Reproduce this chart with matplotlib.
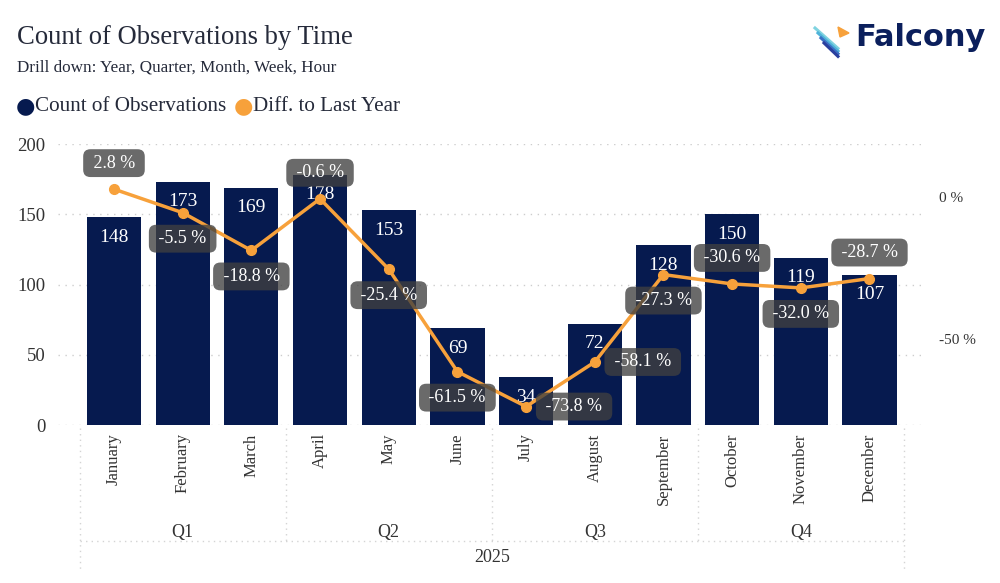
import matplotlib.pyplot as plt
import matplotlib.transforms as mtransforms
from matplotlib.patches import Polygon

months = ['January', 'February', 'March', 'April', 'May', 'June', 'July',
          'August', 'September', 'October', 'November', 'December']
counts = [148, 173, 169, 178, 153, 69, 34, 72, 128, 150, 119, 107]
diff_pct = [2.8, -5.5, -18.8, -0.6, -25.4, -61.5, -73.8, -58.1, -27.3, -30.6, -32.0, -28.7]
quarters = ['Q1', 'Q2', 'Q3', 'Q4']
year = '2025'

# where each percent label sits relative to its point (pixels)
label_offsets = [(0, 26), (0, -26), (0, -26), (0, 26), (0, -26), (0, -26),
                 (48, 0), (48, 0), (0, -26), (0, 26), (0, -26), (0, 26)]

NAVY = '#061a4f'
ORANGE = '#f7a13b'
TEXT = '#252a3a'
SERIF = 'Liberation Serif'

plt.rcParams['font.family'] = SERIF

fig = plt.figure(figsize=(10, 5.83), dpi=100)
ax = fig.add_axes([0.058, 0.271, 0.863, 0.482])
ax2 = ax.twinx()

x = list(range(len(months)))
ax.bar(x, counts, width=0.79, color=NAVY, zorder=2)
for xi, c in zip(x, counts):
    ax.annotate(str(c), (xi, c), xytext=(0, -20), textcoords='offset pixels',
                ha='center', va='center', color='white', fontsize=14, zorder=3)

ax.set_ylim(0, 200)
ax.set_xlim(-0.815, 11.75)
ax.set_yticks([0, 50, 100, 150, 200])
ax.grid(axis='y', linestyle=(0, (1, 4)), color='#cdcdcd', linewidth=1)
ax.set_axisbelow(True)
ax.tick_params(axis='y', length=0, labelsize=13.5, labelcolor='#333333', pad=9)
ax.set_xticks(x)
ax.set_xticklabels(months, rotation=90, fontsize=12, color='#333333', va='top')
ax.tick_params(axis='x', length=0, pad=6)
for s in ax.spines.values():
    s.set_visible(False)

ax2.plot(x, diff_pct, color=ORANGE, linewidth=2.5, marker='o', markersize=7, zorder=4)
ax2.set_ylim(-80.3, 18.7)
ax2.set_yticks([0, -50])
ax2.set_yticklabels(['0 %', '-50 %'])
ax2.tick_params(axis='y', length=0, labelsize=11, labelcolor='#333333', pad=13)
for s in ax2.spines.values():
    s.set_visible(False)
for xi, p, off in zip(x, diff_pct, label_offsets):
    ax2.annotate(f' {p:.1f} % ', (xi, p), xytext=off, textcoords='offset pixels',
                 ha='center', va='center', color='white', fontsize=13, zorder=5,
                 bbox=dict(boxstyle='round,pad=0.3,rounding_size=0.4',
                           fc='#404040', ec='none', alpha=0.78))

# hierarchical axis: quarters and year
bt = mtransforms.blended_transform_factory(ax.transData, fig.transFigure)
def fy(py):
    return 1 - py / 583
grid_kw = dict(color='#d4d4d4', linestyle=(0, (1, 3)), linewidth=1, transform=bt, clip_on=False)
for b in [-0.5, 11.5]:
    ax.plot([b, b], [fy(428), fy(572)], **grid_kw)
for b in [2.5, 5.5, 8.5]:
    ax.plot([b, b], [fy(428), fy(541)], **grid_kw)
ax.plot([-0.5, 11.5], [fy(541), fy(541)], **grid_kw)
for i, q in enumerate(quarters):
    ax.text(3 * i + 1, fy(532), q, transform=bt, ha='center', va='center',
            fontsize=13, color='#333333')
ax.text(5.5, fy(557), year, transform=bt, ha='center', va='center',
        fontsize=13, color='#333333')

# title, subtitle, legend
fig.text(0.017, fy(37), 'Count of Observations by Time', fontsize=19.2, color=TEXT, va='center')
fig.text(0.017, fy(68), 'Drill down: Year, Quarter, Month, Week, Hour', fontsize=12.3,
         color=TEXT, va='center')
fig.text(0.025, fy(106), '\u25cf', fontsize=16, color=NAVY, va='center', ha='center',
         family='DejaVu Sans')
fig.text(0.035, fy(106), 'Count of Observations', fontsize=15.2, color=TEXT, va='center')
fig.text(0.243, fy(106), '\u25cf', fontsize=16, color=ORANGE, va='center', ha='center',
         family='DejaVu Sans')
fig.text(0.253, fy(106), 'Diff. to Last Year', fontsize=15.2, color=TEXT, va='center')

# logo
fig.text(0.855, fy(38), 'Falcony', fontsize=22, fontweight='bold', color='#0b1f5c',
         va='center', family='DejaVu Sans')
stripe_colors = ['#7fd3e0', '#4fb3d9', '#3a6fc4', '#2a3f9e']
for i, c in enumerate(stripe_colors):
    y0 = fy(28 + i * 5)
    fig.add_artist(plt.Line2D([0.815 + i * 0.003, 0.838], [y0, y0 - 0.035 + i * 0.004],
                              color=c, linewidth=2.2, transform=fig.transFigure))
fig.add_artist(Polygon([[0.838, fy(27)], [0.849, fy(33)], [0.840, fy(37)]], closed=True,
                       color='#f7a13b', transform=fig.transFigure))

fig.savefig('out.png', dpi=100, facecolor='white')
